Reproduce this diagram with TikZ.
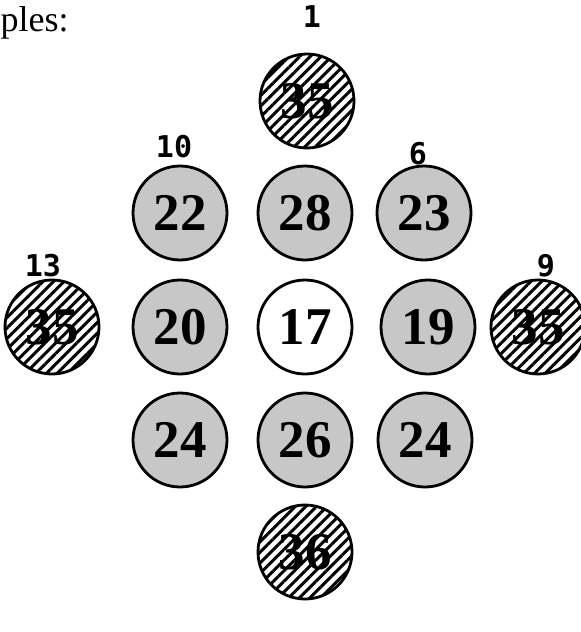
\documentclass[tikz,border=0pt]{standalone}
\usepackage{fontspec}
\setmainfont{Liberation Serif}
\newfontfamily\labfont{DejaVu Sans Mono}
\usetikzlibrary{patterns.meta}
\tikzset{
  disc/.style={circle, draw=black, line width=2.8pt, minimum size=94pt, inner sep=0pt,
    font=\bfseries\fontsize{53}{53}\selectfont},
  grey/.style={disc, fill=black!22},
  plain/.style={disc, fill=white},
  hatch/.style={disc, fill=white, postaction={pattern={Lines[angle=45,distance=7.5pt,line width=3pt]}}},
  lab/.style={font=\labfont\bfseries\fontsize{30}{30}\selectfont, inner sep=0pt},
}
\begin{document}
\begin{tikzpicture}[x=1pt,y=-1pt]
\useasboundingbox (0,0) rectangle (581,632);
\node[anchor=base west, inner sep=0pt, font=\fontsize{36}{36}\selectfont] (ples) at (0.5,31) {ples:};
% hatched
\node[hatch] (t) at (307,101) {35};
\node[hatch] (l) at (52,327) {35};
\node[hatch] (r) at (538,327) {35};
\node[hatch] (b) at (305,552) {36};
% grey
\node[grey] (a22) at (180,213) {22};
\node[grey] (a28) at (305,213) {28};
\node[grey] (a23) at (424,213) {23};
\node[grey] (a20) at (180,327) {20};
\node[plain] (a17) at (305,327) {17};
\node[grey] (a19) at (428,327) {19};
\node[grey] (a24l) at (180,440) {24};
\node[grey] (a26) at (305,440) {26};
\node[grey] (a24r) at (425,440) {24};
% labels
\node[lab] (n1) at (312,17) {1};
\node[lab] (n10) at (174,147) {10};
\node[lab] (n6) at (418,154) {6};
\node[lab] (n13) at (43,266) {13};
\node[lab] (n9) at (546,266) {9};
\end{tikzpicture}
\end{document}
